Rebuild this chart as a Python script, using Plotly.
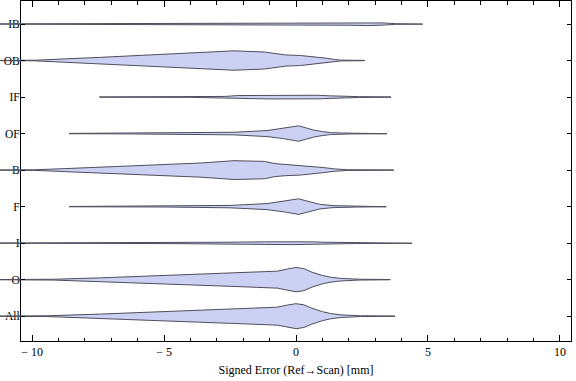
import plotly.graph_objects as go

# ---- data (x in mm, density as relative half-width) ----
categories = ["All", "O", "I", "F", "B", "OF", "IF", "OB", "IB"]

x_All = [-11.3, -9.4, -7.4, -4.85, -2.35, -0.7, -0.35, 0.0, 0.3, 0.6, 1.0, 1.3, 1.7, 2.1, 2.45, 3.75]
d_All = [0.15, 0.4, 2.1, 4.7, 7.3, 9.0, 11.0, 12.5, 11.3, 8.0, 4.5, 2.7, 1.3, 0.7, 0.4, 0.15]

x_O = [-11.3, -9.2, -7.4, -4.85, -2.35, -0.7, -0.35, 0.0, 0.3, 0.6, 1.0, 1.3, 1.7, 2.1, 2.4, 3.57]
d_O = [0.15, 0.4, 1.8, 4.2, 6.8, 8.5, 10.5, 12.2, 11.0, 7.5, 4.2, 2.5, 1.3, 0.6, 0.4, 0.15]

x_I = [-11.3, -7.0, -4.5, -2.5, -1.2, -0.2, 0.7, 1.0, 1.8, 2.3, 3.4, 4.4]
d_I = [0.15, 0.3, 0.5, 0.9, 1.3, 1.5, 1.3, 0.9, 0.7, 0.4, 0.3, 0.1]

x_F = [-8.6, -5.0, -2.5, -1.1, -0.4, 0.1, 0.5, 0.9, 1.4, 1.8, 2.3, 3.42]
d_F = [0.15, 0.4, 1.2, 3.0, 5.5, 7.8, 5.0, 2.3, 1.0, 0.7, 0.45, 0.15]

x_B = [-11.3, -9.9, -8.9, -7.4, -5.5, -3.6, -2.35, -1.2, -0.8, -0.4, 0.17, 0.6, 1.05, 1.45, 1.7, 1.95, 3.7]
d_B = [0.15, 0.3, 1.3, 2.9, 4.9, 7.1, 9.4, 8.7, 6.5, 5.6, 5.0, 3.8, 2.5, 1.2, 0.6, 0.35, 0.15]

x_OF = [-8.6, -6.3, -3.6, -2.35, -1.1, -0.5, 0.1, 0.4, 0.67, 1.0, 1.3, 1.7, 2.0, 3.45]
d_OF = [0.15, 0.35, 0.8, 1.3, 3.0, 5.0, 7.7, 5.5, 3.5, 2.0, 1.0, 0.6, 0.4, 0.15]

x_IF = [-7.45, -4.0, -2.7, -2.2, -1.0, 0.8, 1.3, 1.9, 2.4, 3.6]
d_IF = [0.15, 0.3, 0.6, 1.5, 1.9, 1.8, 1.2, 0.7, 0.4, 0.15]

x_OB = [-11.3, -9.9, -7.4, -4.85, -2.35, -1.2, -0.8, -0.4, 0.17, 0.7, 1.1, 1.45, 1.7, 2.6]
d_OB = [0.15, 0.3, 3.2, 6.4, 9.7, 8.5, 6.8, 5.6, 5.0, 3.8, 2.5, 1.1, 0.4, 0.15]

x_IB = [-11.3, -8.0, -5.6, -2.0, 0.0, 2.0, 2.7, 3.3, 3.8, 4.8]
d_IB = [0.15, 0.4, 0.8, 1.0, 1.0, 1.2, 1.6, 1.1, 0.3, 0.1]

x_tick_vals = [-10, -5, 0, 5, 10]
x_tick_text = ["\u2212 10", "\u2212 5", "0", "5", "10"]
x_title = "Signed Error (Ref\u2192Scan) [mm]"

profiles = {
    "All": (x_All, d_All), "O": (x_O, d_O), "I": (x_I, d_I), "F": (x_F, d_F),
    "B": (x_B, d_B), "OF": (x_OF, d_OF), "IF": (x_IF, d_IF), "OB": (x_OB, d_OB),
    "IB": (x_IB, d_IB),
}

# ---- style / layout constants ----
W, H = 576, 381
ML, MR, MT, MB = 0, 5, 1, 40
FRAME_L = 21
XR = [-10.42, 10.42]
plot_w = W - ML - MR - FRAME_L
px_per_unit = plot_w / (XR[1] - XR[0])
X2R = [XR[0] - FRAME_L / px_per_unit, XR[0]]
YR = [0.32, 9.63]
px_per_cat = (H - MT - MB) / (YR[1] - YR[0])
WIDTH_SCALE = 1.0 / px_per_cat  # density units -> category units

FILL = "rgb(204,209,244)"
EDGE = "rgb(78,78,92)"
FONT = "Liberation Serif"

fig = go.Figure()
for i, cat in enumerate(categories):
    xs, ds = profiles[cat]
    c = i + 1
    px = list(xs) + list(xs[::-1])
    py = [c + d * WIDTH_SCALE for d in ds] + [c - d * WIDTH_SCALE for d in ds[::-1]]
    for xa in ("x", "x2"):
        fig.add_trace(go.Scatter(
            x=px, y=py, xaxis=xa, yaxis="y", mode="lines", fill="toself",
            fillcolor=FILL, line=dict(color=EDGE, width=1), hoverinfo="skip",
            showlegend=False,
        ))

fig.update_layout(
    width=W, height=H,
    margin=dict(l=ML, r=MR, t=MT, b=MB, autoexpand=False),
    paper_bgcolor="white", plot_bgcolor="white",
    font=dict(family=FONT, size=12, color="black"),
    xaxis=dict(
        domain=[FRAME_L / (W - ML - MR), 1], range=XR, anchor="y",
        tickvals=x_tick_vals, ticktext=x_tick_text,
        ticks="inside", ticklen=6, tickwidth=1, tickcolor="black",
        minor=dict(dtick=1, tick0=0, ticks="inside", ticklen=3.5, tickwidth=1, tickcolor="black"),
        showline=True, linecolor="black", linewidth=1, mirror="ticks",
        showgrid=False, zeroline=False, automargin=False,
        title=dict(text=x_title, standoff=7, font=dict(family=FONT, size=12)),
        tickfont=dict(family=FONT, size=12),
    ),
    xaxis2=dict(
        domain=[0, FRAME_L / (W - ML - MR)], range=X2R, anchor="y",
        visible=False, showgrid=False, zeroline=False,
    ),
    yaxis=dict(
        range=YR, anchor="x", tickvals=list(range(1, len(categories) + 1)),
        ticktext=categories, ticks="inside", ticklen=4, tickwidth=1, tickcolor="black",
        showline=True, linecolor="black", linewidth=1, mirror="ticks",
        showgrid=False, zeroline=False, automargin=False, ticklabelstandoff=-2,
        tickfont=dict(family=FONT, size=11.5),
    ),
)

fig.write_html(
    "out.html",
    config={"displayModeBar": False, "staticPlot": True},
    post_script="document.body.style.margin='0';",
)
